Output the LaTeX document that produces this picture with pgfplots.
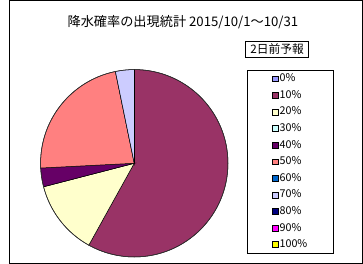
\documentclass[border=0pt]{standalone}
\usepackage{pgfplots}
\usepackage{pgfplotstable}
\pgfplotsset{compat=1.18}
\usepackage{fontspec}
\setmainfont{Noto Sans CJK JP}
\definecolor{c0}{HTML}{9999FF}
\definecolor{c1}{HTML}{993366}
\definecolor{c2}{HTML}{FFFFCC}
\definecolor{c3}{HTML}{CCFFFF}
\definecolor{c4}{HTML}{660066}
\definecolor{c5}{HTML}{FF8080}
\definecolor{c6}{HTML}{0066CC}
\definecolor{c7}{HTML}{CCCCFF}
\definecolor{c8}{HTML}{000080}
\definecolor{c9}{HTML}{FF00FF}
\definecolor{c10}{HTML}{FFFF00}
% probability of precipitation (%) and number of days, 2015/10/1-10/31
\pgfplotstableread{
pct days
0 0
10 18
20 4
30 0
40 1
50 7
60 0
70 1
80 0
90 0
100 0
}\datatable
\begin{document}
% compute slice angles from the table
\xdef\total{0}
\foreach \i in {0,...,10}{%
  \pgfplotstablegetelem{\i}{days}\of\datatable
  \pgfmathsetmacro\t{\total+\pgfplotsretval}%
  \xdef\total{\t}%
}
\xdef\cum{0}
\foreach \i in {0,...,10}{%
  \pgfplotstablegetelem{\i}{days}\of\datatable
  \pgfmathsetmacro\v{\pgfplotsretval}%
  \pgfmathsetmacro\a{90-\cum*360/\total}%
  \pgfmathsetmacro\b{90-(\cum+\v)*360/\total}%
  \expandafter\xdef\csname sa\i\endcsname{\a}%
  \expandafter\xdef\csname ea\i\endcsname{\b}%
  \pgfmathsetmacro\c{\cum+\v}%
  \xdef\cum{\c}%
}
\begin{tikzpicture}[x=1bp,y=1bp]
\useasboundingbox (0,0) rectangle (363,270);
\draw[black, line width=1bp] (0.5,0.5) rectangle (362.5,269.5);
\node[font=\fontsize{13.5bp}{15bp}\selectfont, anchor=center] at (178.5,247) {降水確率の出現統計 2015/10/1～10/31};
\node[draw=black, line width=0.8bp, inner sep=1.5bp, font=\fontsize{12bp}{14bp}\selectfont, minimum width=64bp, minimum height=17bp] at (275,219.5) {2日前予報};
\begin{axis}[
  at={(134,107)}, anchor=center,
  width=192bp, height=192bp, scale only axis,
  xmin=-1, xmax=1, ymin=-1, ymax=1,
  hide axis,
  clip=false,
  legend cell align=left,
  legend image code/.code={\draw[#1, line width=0.5bp] (0bp,-3bp) rectangle (6bp,3bp);},
  legend style={
    at={(rel axis cs:1.099,1)}, anchor=north west,
    draw=black, line width=0.8bp,
    font=\fontsize{11bp}{12bp}\selectfont,
    inner xsep=26bp, inner ysep=3bp,
    row sep=5bp,
    nodes={inner sep=1bp, text height=8bp, text depth=2bp},
  },
]
\pgfplotsinvokeforeach{0,...,10}{
  \fill[fill=c#1, draw=black, line width=0.5bp]
    (axis cs:0,0) -- (axis cs:{cos(\csname sa#1\endcsname)},{sin(\csname sa#1\endcsname)})
    arc[start angle=\csname sa#1\endcsname, end angle=\csname ea#1\endcsname, radius=1] -- cycle;
}
\draw[black!80, line width=0.6bp] (axis cs:0,0) circle[radius=1];
\addlegendimage{fill=c0, draw=black}\addlegendentry{0\%}
\addlegendimage{fill=c1, draw=black}\addlegendentry{10\%}
\addlegendimage{fill=c2, draw=black}\addlegendentry{20\%}
\addlegendimage{fill=c3, draw=black}\addlegendentry{30\%}
\addlegendimage{fill=c4, draw=black}\addlegendentry{40\%}
\addlegendimage{fill=c5, draw=black}\addlegendentry{50\%}
\addlegendimage{fill=c6, draw=black}\addlegendentry{60\%}
\addlegendimage{fill=c7, draw=black}\addlegendentry{70\%}
\addlegendimage{fill=c8, draw=black}\addlegendentry{80\%}
\addlegendimage{fill=c9, draw=black}\addlegendentry{90\%}
\addlegendimage{fill=c10, draw=black}\addlegendentry{100\%}
\end{axis}
\end{tikzpicture}
\end{document}
